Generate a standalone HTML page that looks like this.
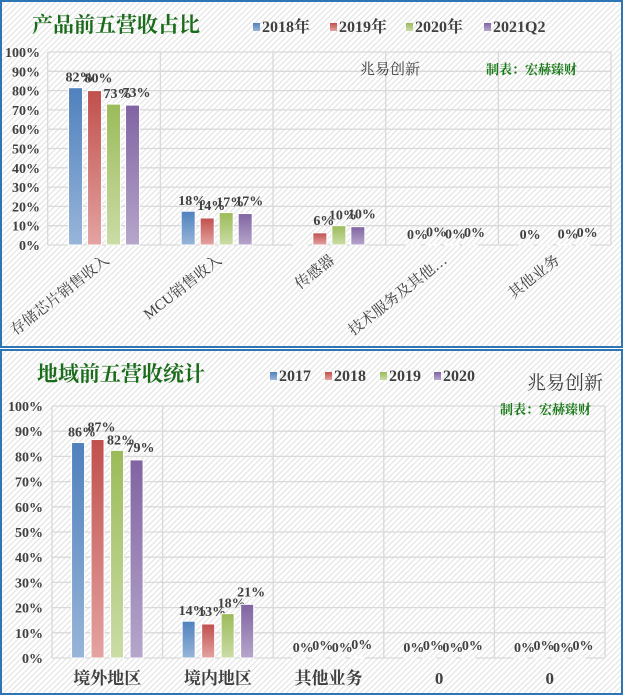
<!DOCTYPE html>
<html><head><meta charset="utf-8">
<style>
body{margin:0;padding:0;background:#fff;}
svg{display:block;font-family:"Liberation Serif","Noto Serif CJK SC",serif;}
</style></head>
<body>
<svg id="c" width="623" height="696" viewBox="0 0 623 696" xmlns="http://www.w3.org/2000/svg">
<defs>
<pattern id="hatch" width="4" height="4" patternUnits="userSpaceOnUse" patternTransform="rotate(45)">
<rect width="4" height="4" fill="#ffffff"/><rect width="1.2" height="4" fill="#e4e4e4"/>
</pattern>
<linearGradient id="g0" x1="0" y1="0" x2="0" y2="1"><stop offset="0" stop-color="#4f81bd"/><stop offset="1" stop-color="#98b5d9"/></linearGradient>
<linearGradient id="g1" x1="0" y1="0" x2="0" y2="1"><stop offset="0" stop-color="#c0504d"/><stop offset="1" stop-color="#e4a3a1"/></linearGradient>
<linearGradient id="g2" x1="0" y1="0" x2="0" y2="1"><stop offset="0" stop-color="#9bbb59"/><stop offset="1" stop-color="#cbdca6"/></linearGradient>
<linearGradient id="g3" x1="0" y1="0" x2="0" y2="1"><stop offset="0" stop-color="#8064a2"/><stop offset="1" stop-color="#b6a6cb"/></linearGradient>
</defs>
<rect x="1" y="1" width="621" height="346" fill="url(#hatch)" stroke="#2e75b6" stroke-width="2"/>
<rect x="1" y="350" width="621" height="344" fill="url(#hatch)" stroke="#2e75b6" stroke-width="2"/>
<g id="topchart"></g>
<g id="botchart"></g>
</svg>
<script>
const topCategories=["存储芯片销售收入","MCU销售收入","传感器","技术服务及其他…","其他业务"];
const topSeries=["2018年","2019年","2020年","2021Q2"];
const topValues=[[81.5,17.5,0,0,0],[80,14,6.3,0.3,0],[73,16.8,10,0.3,0.2],[72.5,16.3,9.5,0,0]];
const topLabels=[["82%","18%","","0%","0%"],["80%","14%","6%","0%",""],["73%","17%","10%","0%","0%"],["73%","17%","10%","0%","0%"]];
const botCategories=["境外地区","境内地区","其他业务","0","0"];
const botSeries=["2017","2018","2019","2020"];
const botValues=[[85.5,14.6,0,0,0],[86.7,13.5,0,0,0],[82.4,17.6,0,0,0],[78.6,21.3,0.3,0,0]];
const botLabels=[["86%","14%","0%","0%","0%"],["87%","13%","0%","0%","0%"],["82%","18%","0%","0%","0%"],["79%","21%","0%","0%","0%"]];
const yTicks=[0,10,20,30,40,50,60,70,80,90,100];

const NS="http://www.w3.org/2000/svg";
function mk(parent,tag,attrs,text){const e=document.createElementNS(NS,tag);for(const k in attrs)e.setAttribute(k,attrs[k]);if(text!==undefined)e.textContent=text;parent.appendChild(e);return e;}

function drawChart(g,cfg){
  const {x0,x1,yTop,yBot,cats,series,vals,labels,barW,step}=cfg;
  const y=v=>yBot-(v/100)*(yBot-yTop);
  const cw=(x1-x0)/cats.length;
  const xc=i=>x0+cw*(i+0.5);
  yTicks.forEach(t=>{
    const l=mk(g,'line',{x1:x0,x2:x1,y1:y(t),y2:y(t),stroke:'#d9d9d9','stroke-width':1.3});
    
    
    const tx=mk(g,'text',{x:cfg.tickX,y:y(t)+5,'text-anchor':'end','font-size':14,'font-weight':'bold',fill:'#404040'},t+'%');
    
    
  });
  for(let i=0;i<=cats.length;i++){
    const l=mk(g,'line',{x1:x0+cw*i,x2:x0+cw*i,y1:yTop,y2:yBot,stroke:'#d9d9d9','stroke-width':1.3});
    
    
  }
  cats.forEach((c,i)=>{
    series.forEach((s,j)=>{
      const v=vals[j][i];
      const bx=xc(i)+(j-1.5)*step-barW/2;
      const r=mk(g,'rect',{x:bx,y:y(v),width:barW,height:Math.max(yBot-y(v),0.01),fill:'url(#g'+j+')',stroke:'#fff','stroke-width':1});
      
      
      const lb=labels[j][i];
      if(lb){
        const t=mk(g,'text',{x:bx+barW/2+4,y:y(v)-6-(j%2)*2,'text-anchor':'middle','font-size':14,'font-weight':'bold',fill:'#404040'},lb);
        
        
      }
    });
    if(cfg.rotate){
      const ax=xc(i)+6, ay=yBot+17;
      const t=mk(g,'text',{x:ax,y:ay,'text-anchor':'end','font-size':15,fill:'#404040',transform:'rotate(-38 '+ax+' '+ay+')'},c);
      
      
    }else{
      const t=mk(g,'text',{x:xc(i),y:yBot+26,'text-anchor':'middle','font-size':17,'font-weight':'bold',fill:'#404040'},c);
      
      
    }
  });
  const tt=mk(g,'text',{x:cfg.titleX,y:cfg.titleY,'font-size':21,'font-weight':'bold',fill:'#1a6b1a'},cfg.title);
  
  
  series.forEach((s,j)=>{
    const lx=cfg.legX[j];
    const r=mk(g,'rect',{x:lx,y:cfg.legY-9,width:7,height:8,fill:'url(#g'+j+')'});
    
    
    const t=mk(g,'text',{x:lx+9,y:cfg.legY,'font-size':16,'font-weight':'bold',fill:'#404040'},s);
    
    
  });
}
const topG=document.getElementById('topchart');
drawChart(topG,{x0:47.7,x1:611,yTop:52,yBot:245,cats:topCategories,series:topSeries,vals:topValues,labels:topLabels,barW:14,step:19,tickX:40,rotate:true,title:'产品前五营收占比',titleX:32,titleY:32,legX:[253,330,406,484],legY:32});
const botG=document.getElementById('botchart');
drawChart(botG,{x0:52,x1:605,yTop:406,yBot:658,cats:botCategories,series:botSeries,vals:botValues,labels:botLabels,barW:13,step:19.5,tickX:43,rotate:false,title:'地域前五营收统计',titleX:37,titleY:381,legX:[270,325,380,434],legY:381});
let w=mk(topG,'text',{x:360,y:74,'font-size':15,fill:'#404040'},'兆易创新');


w=mk(topG,'text',{x:486,y:74,'font-size':13,'font-weight':'bold',fill:'#1a7a1a'},'制表：宏赫臻财');


w=mk(botG,'text',{x:527,y:389,'font-size':19,fill:'#404040'},'兆易创新');


w=mk(botG,'text',{x:500,y:414,'font-size':13,'font-weight':'bold',fill:'#1a7a1a'},'制表：宏赫臻财');


</script>
</body></html>
